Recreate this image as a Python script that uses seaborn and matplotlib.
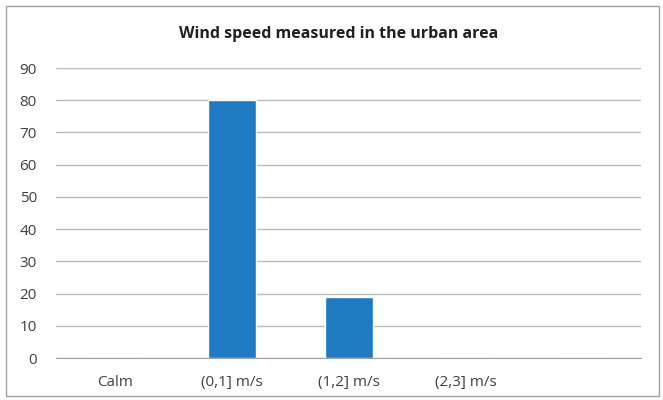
import matplotlib
matplotlib.use("Agg")
import matplotlib.pyplot as plt
import seaborn as sns
import pandas as pd
from matplotlib.patches import Rectangle

categories = ["Calm", "(0,1] m/s", "(1,2] m/s", "(2,3] m/s", ""]
values = [0, 80, 19, 0, 0]
y_ticks = [0, 10, 20, 30, 40, 50, 60, 70, 80, 90]

sns.set_style("white")
plt.rcParams['font.family'] = ['Open Sans', 'DejaVu Sans']

df = pd.DataFrame({"cat": categories, "val": values})

fig = plt.figure(figsize=(6.63, 4.0), dpi=100)
ax = fig.add_axes([0.085, 0.105, 0.882, 0.725])
sns.barplot(data=df, x="cat", y="val", order=categories, color="#1f7bc1",
            width=0.41, saturation=1, ax=ax)

ax.set_ylim(0, 90)
ax.set_yticks(y_ticks)
ax.set_xlim(-0.5, len(categories) - 0.5)
ax.yaxis.grid(True, color="#bcbcbc", linewidth=1)
ax.set_axisbelow(True)
for s in ["left", "right", "top"]:
    ax.spines[s].set_visible(False)
ax.spines["bottom"].set_color("#a0a0a0")
ax.tick_params(axis="both", length=0, labelsize=11, colors="#404040")
ax.tick_params(axis="x", pad=12)
ax.tick_params(axis="y", pad=14)
ax.set_xlabel("")
ax.set_ylabel("")
fig.text(0.51, 0.915, "Wind speed measured in the urban area", ha="center",
         va="center", fontsize=11.5, fontweight="bold", color="#202020")

fig.patches.append(Rectangle((0.009, 0.01), 0.985, 0.975, transform=fig.transFigure,
                             fill=False, edgecolor="#a0a0a0", linewidth=1))

fig.savefig("out.png", dpi=100)
